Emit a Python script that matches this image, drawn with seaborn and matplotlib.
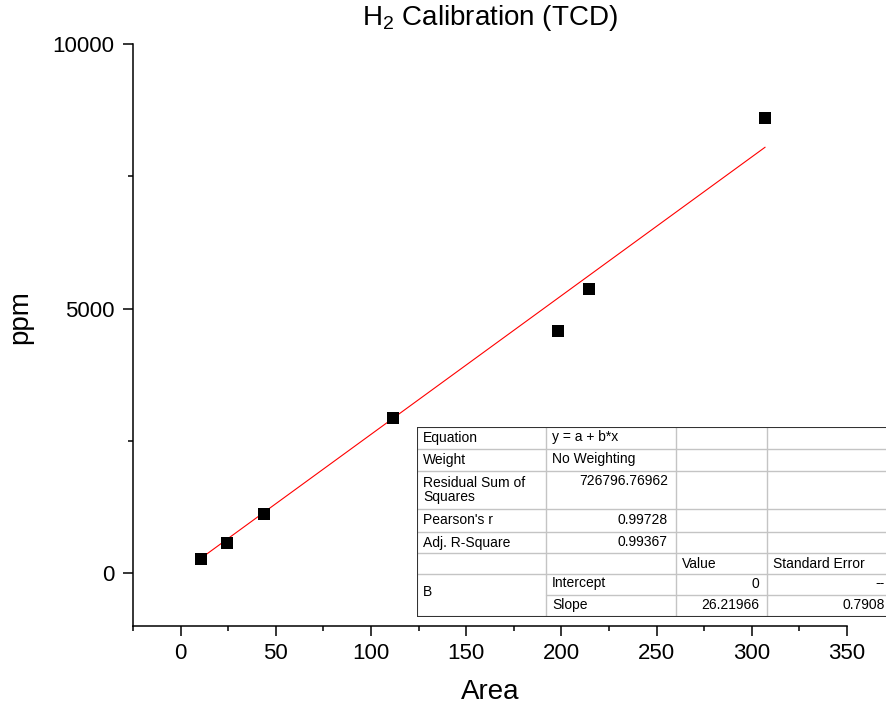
import numpy as np
import seaborn as sns
import matplotlib.pyplot as plt

# calibration points
area = [10.5, 24.2, 43.6, 111.5, 198.4, 214.5, 307.0]
ppm = [265, 568, 1117, 2936, 4570, 5360, 8593]

# fit report
stat_names = ["Equation", "Weight", "Residual Sum of\nSquares", "Pearson's r", "Adj. R-Square"]
stat_values = ["y = a + b*x", "No Weighting", "726796.76962", "0.99728", "0.99367"]
param_names = ["Intercept", "Slope"]
param_values = [0.0, 26.21966]
param_labels = ["0", "26.21966"]
param_errors = ["--", "0.7908"]

sns.set_theme(style="ticks")
plt.rcParams['font.family'] = ['Liberation Sans', 'DejaVu Sans']
plt.rcParams['mathtext.fontset'] = 'custom'
plt.rcParams['mathtext.rm'] = 'Liberation Sans'
plt.rcParams['text.color'] = 'black'
plt.rcParams['axes.labelcolor'] = 'black'
plt.rcParams['xtick.color'] = 'black'
plt.rcParams['ytick.color'] = 'black'

W, H = 887, 715
fig = plt.figure(figsize=(W / 100, H / 100), dpi=100)
fig.patch.set_facecolor('white')
ax = fig.add_axes([133 / W, 1 - 626 / H, (847 - 133) / W, (626 - 44) / H])
ax.set_facecolor('white')

# fitted line through the data range
fx = np.array([min(area), max(area)])
sns.lineplot(x=fx, y=param_values[0] + param_values[1] * fx, color='red',
             linewidth=0.8, ax=ax, zorder=2)
sns.scatterplot(x=area, y=ppm, marker='s', s=74, color='black',
                linewidth=0, ax=ax, zorder=3)

ax.set_xlim(-25, 350)
ax.set_ylim(-1000, 10000)
ax.set_xticks(np.arange(0, 351, 50))
ax.set_xticks(np.arange(-25, 350, 50), minor=True)
ax.set_yticks([0, 5000, 10000])
ax.set_yticks([2500, 7500], minor=True)
sns.despine(ax=ax)
for s in ['left', 'bottom']:
    ax.spines[s].set_linewidth(1.1)
    ax.spines[s].set_color('black')
ax.tick_params(which='major', length=7.2, width=1.1, labelsize=16, direction='out')
ax.tick_params(which='minor', length=3.6, width=1.1, direction='out')
ax.tick_params(axis='x', pad=5)
ax.tick_params(axis='y', pad=6)

ax.set_xlabel('Area', fontsize=20, labelpad=11)
ax.set_ylabel('ppm', fontsize=20)
ax.yaxis.set_label_coords(-0.14, 0.53)
ax.set_title('H$_\\mathregular{2}$ Calibration (TCD)', fontsize=20, pad=14)

# fit table, laid out in pixel units
cx = [0, 129, 259, 350, 476]
ry = [0, 22, 44, 82, 105, 126, 147, 168, 190]
tax = fig.add_axes([417 / W, 1 - 617 / H, cx[-1] / W, ry[-1] / H])
tax.set_xlim(0, cx[-1])
tax.set_ylim(ry[-1], 0)
tax.axis('off')

grid = '#c4c4c4'
for y in ry[1:7]:
    tax.plot([0, cx[-1]], [y, y], color=grid, lw=1)
tax.plot([cx[1], cx[-1]], [ry[7], ry[7]], color=grid, lw=1)
for x in cx[1:4]:
    tax.plot([x, x], [0, ry[-1]], color=grid, lw=1)
edge = '#333333'
tax.plot([cx[-1], 0, 0, cx[-1]], [0, 0, ry[-1], ry[-1]], color=edge, lw=1.5,
         solid_joinstyle='miter')

fs = 10
lpad, rpad = 6, 8
for i, name in enumerate(stat_names):
    yc = (ry[i] + ry[i + 1]) / 2
    tax.text(lpad, yc, name, fontsize=fs, va='center', ha='left', linespacing=1.05)
for i, val in enumerate(stat_values):
    yc = (ry[i] + ry[i + 1]) / 2 - 1
    if i == 2:
        yc = ry[i] + 10
    if i < 2:
        tax.text(cx[1] + lpad, yc, val, fontsize=fs, va='center', ha='left')
    else:
        tax.text(cx[2] - rpad, yc, val, fontsize=fs, va='center', ha='right')

yc = (ry[5] + ry[6]) / 2
tax.text(cx[2] + lpad, yc, 'Value', fontsize=fs, va='center', ha='left')
tax.text(cx[3] + lpad, yc, 'Standard Error', fontsize=fs, va='center', ha='left')
tax.text(lpad, (ry[6] + ry[8]) / 2 - 4, 'B', fontsize=fs, va='center', ha='left')
for j, name in enumerate(param_names):
    yc = (ry[6 + j] + ry[7 + j]) / 2 - 1
    tax.text(cx[1] + lpad, yc, name, fontsize=fs, va='center', ha='left')
    tax.text(cx[3] - rpad, yc, param_labels[j], fontsize=fs, va='center', ha='right')
    tax.text(cx[4] - rpad, yc, param_errors[j], fontsize=fs, va='center', ha='right')

fig.savefig('out.png', dpi=100, facecolor='white')
